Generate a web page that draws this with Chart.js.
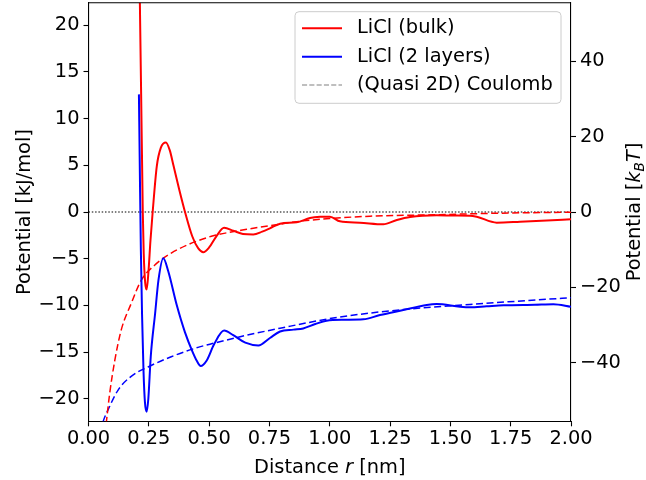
<!DOCTYPE html>
<html><head><meta charset="utf-8">
<script src="https://cdn.jsdelivr.net/npm/chart.js@4.4.1/dist/chart.umd.min.js"></script>
<style>html,body{margin:0;padding:0;background:#fff;}</style>
</head><body>
<canvas id="c" width="646" height="480"></canvas>
<script>
// ---- data ----
const xTicks = [0, 0.25, 0.5, 0.75, 1.0, 1.25, 1.5, 1.75, 2.0];
const yLeftTicks = [-20, -15, -10, -5, 0, 5, 10, 15, 20];
const yRightTicks = [-40, -20, 0, 20, 40];

const bulkR   = [0.211,0.218,0.225,0.229,0.235,0.241,0.248,0.257,0.266,0.283,0.300,0.321,0.337,0.352,0.376,0.400,0.430,0.455,0.476,0.500,0.530,0.562,0.600,0.640,0.683,0.720,0.752,0.794,0.863,0.918,0.960,1.001,1.042,1.125,1.222,1.278,1.333,1.443,1.520,1.581,1.609,1.692,1.789,1.900,2.000];
const bulkPot = [26,13,0,-4.5,-7.6,-8.3,-6.6,-3,0,4.9,6.9,7.45,6.6,5.0,2.4,0,-2.6,-3.9,-4.3,-3.8,-2.6,-1.7,-2.0,-2.35,-2.4,-2.1,-1.75,-1.25,-1.1,-0.65,-0.52,-0.5,-1.0,-1.15,-1.32,-0.86,-0.54,-0.36,-0.38,-0.39,-0.5,-1.14,-1.04,-0.9,-0.78];

const layerR   = [0.209,0.213,0.217,0.222,0.228,0.234,0.241,0.248,0.258,0.276,0.290,0.310,0.330,0.366,0.400,0.430,0.450,0.465,0.490,0.520,0.562,0.600,0.650,0.704,0.752,0.794,0.850,0.890,0.940,0.987,1.060,1.139,1.208,1.305,1.402,1.443,1.540,1.581,1.650,1.720,1.850,1.927,2.000];
const layerPot = [12.6,4,-4,-11,-17,-20.4,-21.4,-20,-15.5,-10.9,-7.3,-4.96,-6.3,-10,-12.9,-14.9,-16.0,-16.5,-15.9,-14.2,-12.7,-13.2,-14.0,-14.3,-13.5,-12.8,-12.6,-12.47,-12.0,-11.64,-11.55,-11.5,-11.04,-10.5,-9.96,-9.86,-10.14,-10.2,-10.1,-10.0,-9.93,-9.88,-10.15];

const bulkCoulR   = [0.068,0.074,0.088,0.109,0.136,0.177,0.219,0.274,0.343,0.412,0.454,0.517,0.656,0.794,0.890,1.000,1.167,1.443,1.700,2.000];
const bulkCoulPot = [-23.8,-22.5,-19.4,-15.9,-12.6,-9.8,-7.3,-5.7,-4.4,-3.5,-3.07,-2.55,-1.85,-1.3,-0.95,-0.7,-0.45,-0.29,-0.13,-0.02];

const layerCoulR   = [0.050,0.060,0.081,0.122,0.177,0.247,0.343,0.454,0.517,0.656,0.794,1.029,1.305,1.581,2.000];
const layerCoulPot = [-23.6,-22.5,-21.2,-19.1,-17.6,-16.6,-15.5,-14.5,-14.07,-13.2,-12.45,-11.3,-10.45,-9.9,-9.18];

const zeroR = [0, 2];
const zeroPot = [0, 0];

const legendLabels = ['LiCl (bulk)', 'LiCl (2 layers)', '(Quasi 2D) Coulomb'];

// ---- config ----
const Y_MIN = -22.42, Y_MAX = 22.42, KT = 2.479;
const FS = 19.4;
const FONT = {family: 'DejaVu Sans', size: FS};
const pts = (xs, ys) => xs.map((x, i) => ({x: x, y: ys[i]}));

const mkAxisCommon = () => ({
  grid: {drawOnChartArea: false, drawTicks: true, tickLength: 5, tickWidth: 1.1, tickColor: '#000'},
  border: {display: true, color: '#000', width: 1.1},
});

function drawRuns(ctx, runs, cx, baseY) {
  let total = 0;
  runs.forEach(r => { ctx.font = r.font; r.w = ctx.measureText(r.text).width; total += r.w; });
  let x = cx - total / 2;
  ctx.textBaseline = 'alphabetic';
  ctx.textAlign = 'left';
  runs.forEach(r => { ctx.font = r.font; ctx.fillText(r.text, x, baseY + (r.dy || 0)); x += r.w; });
}

const decor = {
  id: 'decor',
  afterDraw(chart) {
    const ctx = chart.ctx, a = chart.chartArea;
    ctx.save();
    // top spine
    ctx.strokeStyle = '#000'; ctx.lineWidth = 1.1;
    ctx.beginPath(); ctx.moveTo(a.left, a.top); ctx.lineTo(a.right, a.top); ctx.stroke();

    const reg = FS + 'px "DejaVu Sans"';
    const ita = 'italic ' + FS + 'px "DejaVu Sans"';
    const sub = 'italic ' + (FS * 0.7).toFixed(1) + 'px "DejaVu Sans"';
    ctx.fillStyle = '#000';
    // x title
    drawRuns(ctx, [{text: 'Distance ', font: reg}, {text: 'r', font: ita}, {text: ' [nm]', font: reg}], (a.left + a.right) / 2, 473);
    // left y title
    const cy = (a.top + a.bottom) / 2;
    ctx.save(); ctx.translate(29.5, cy); ctx.rotate(-Math.PI / 2);
    drawRuns(ctx, [{text: 'Potential [kJ/mol]', font: reg}], 0, 0);
    ctx.restore();
    // right y title
    ctx.save(); ctx.translate(640, cy); ctx.rotate(-Math.PI / 2);
    drawRuns(ctx, [{text: 'Potential [', font: reg}, {text: 'k', font: ita}, {text: 'B', font: sub, dy: 3.5}, {text: 'T', font: ita}, {text: ']', font: reg}], 0, 0);
    ctx.restore();

    // legend
    const bx = 295, by = 11.7, bw = 266, bh = 91.6, rad = 4;
    ctx.fillStyle = 'rgba(255,255,255,0.8)';
    ctx.strokeStyle = '#cccccc'; ctx.lineWidth = 1;
    ctx.beginPath();
    ctx.roundRect(bx, by, bw, bh, rad);
    ctx.fill(); ctx.stroke();
    const rows = [28.3, 56.7, 85];
    const styles = [
      {c: '#ff0000', w: 2, d: []},
      {c: '#0000ff', w: 2, d: []},
      {c: '#808080', w: 1.2, d: [5.1, 2.2]},
    ];
    rows.forEach((yy, i) => {
      ctx.strokeStyle = styles[i].c; ctx.lineWidth = styles[i].w; ctx.setLineDash(styles[i].d);
      ctx.beginPath(); ctx.moveTo(302, yy); ctx.lineTo(342, yy); ctx.stroke();
      ctx.setLineDash([]);
      ctx.fillStyle = '#000'; ctx.font = reg; ctx.textAlign = 'left'; ctx.textBaseline = 'middle';
      ctx.fillText(legendLabels[i], 357, yy);
    });
    ctx.restore();
  }
};

const fmtMinus = v => (v < 0 ? '\u2212' + Math.abs(v) : String(v));

new Chart(document.getElementById('c'), {
  type: 'line',
  data: {
    datasets: [
      {data: pts(bulkR, bulkPot), borderColor: '#ff0000', borderWidth: 2, cubicInterpolationMode: 'monotone', yAxisID: 'y'},
      {data: pts(layerR, layerPot), borderColor: '#0000ff', borderWidth: 2, cubicInterpolationMode: 'monotone', yAxisID: 'y'},
      {data: pts(bulkCoulR, bulkCoulPot), borderColor: '#ff0000', borderWidth: 1.5, borderDash: [7, 3.5], cubicInterpolationMode: 'monotone', yAxisID: 'y'},
      {data: pts(layerCoulR, layerCoulPot), borderColor: '#0000ff', borderWidth: 1.5, borderDash: [7, 3.5], cubicInterpolationMode: 'monotone', yAxisID: 'y'},
      {data: pts(zeroR, zeroPot), borderColor: '#000000', borderWidth: 1.1, borderDash: [1.5, 1.8], yAxisID: 'y'},
    ].map(d => Object.assign({pointRadius: 0, fill: false, tension: 0}, d))
  },
  options: {
    responsive: false,
    devicePixelRatio: 1,
    animation: false,
    layout: {padding: {top: 2.7, left: 0, right: 0, bottom: 0}},
    plugins: {legend: {display: false}, tooltip: {enabled: false}},
    scales: {
      x: Object.assign(mkAxisCommon(), {
        type: 'linear', position: 'bottom', min: 0, max: 2,
        afterBuildTicks: s => { s.ticks = xTicks.map(v => ({value: v})); },
        ticks: {font: FONT, color: '#000', padding: 1, maxRotation: 0, autoSkip: false, callback: v => Number(v).toFixed(2)},
        afterFit: s => { s.height = 58.7; s.paddingLeft = 0; s.paddingRight = 0; },
      }),
      y: Object.assign(mkAxisCommon(), {
        type: 'linear', position: 'left', min: Y_MIN, max: Y_MAX,
        afterBuildTicks: s => { s.ticks = yLeftTicks.map(v => ({value: v})); },
        ticks: {font: FONT, color: '#000', padding: 4, autoSkip: false, callback: v => fmtMinus(v)},
        afterFit: s => { s.width = 88.5; s.paddingTop = 0; s.paddingBottom = 0; },
      }),
      y2: Object.assign(mkAxisCommon(), {
        type: 'linear', position: 'right', min: Y_MIN * KT, max: Y_MAX * KT,
        afterBuildTicks: s => { s.ticks = yRightTicks.map(v => ({value: v})); },
        ticks: {font: FONT, color: '#000', padding: 4, autoSkip: false, callback: v => fmtMinus(v)},
        afterFit: s => { s.width = 75; s.paddingTop = 0; s.paddingBottom = 0; },
      }),
    }
  },
  plugins: [decor]
});
</script>
</body></html>
